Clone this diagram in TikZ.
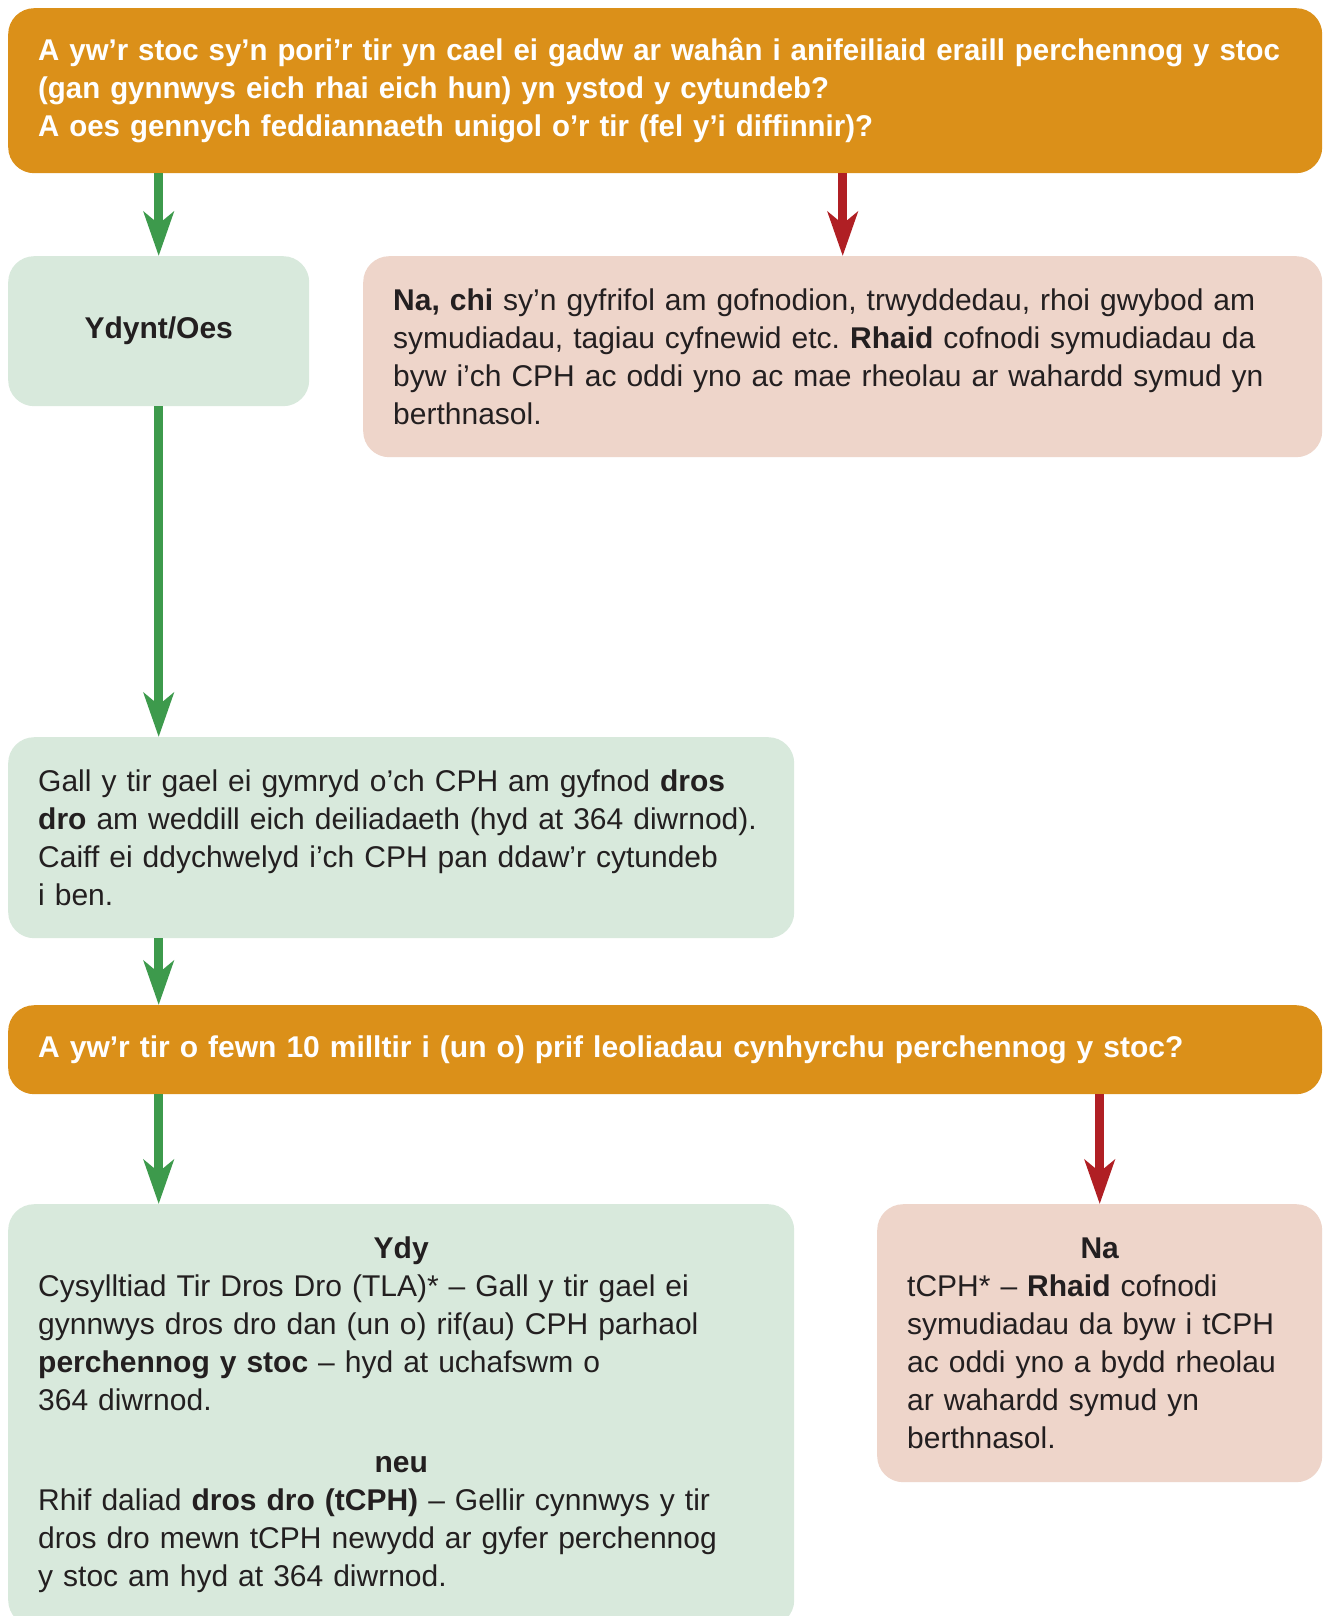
\documentclass[tikz,border=0pt]{standalone}
\usepackage{fontspec}
\setmainfont{Liberation Sans}
\newfontfamily\headfont{Liberation Sans}[FakeStretch=0.98]
\usetikzlibrary{arrows.meta}
\definecolor{qorange}{HTML}{DB9019}
\definecolor{yesfill}{HTML}{D8E9DC}
\definecolor{nofill}{HTML}{EED5CA}
\definecolor{yesgreen}{HTML}{3D9A4C}
\definecolor{nored}{HTML}{B01F24}
\definecolor{ink}{HTML}{231F20}
\frenchspacing
\begin{document}
\begin{tikzpicture}[x=1pt,y=-1pt,
    box/.style={anchor=north west,rounded corners=26pt,inner xsep=30pt,inner ysep=0pt,
      align=left,text=ink,font=\fontsize{30}{38}\selectfont},
    qbox/.style={box,fill=qorange,text=white,font=\bfseries\fontsize{30}{38}\selectfont},
    yesbox/.style={box,fill=yesfill},
    nobox/.style={box,fill=nofill},
    yesline/.style={draw=yesgreen,line width=9pt,-{Stealth[length=44pt,width=30pt,inset=12pt]}},
    noline/.style={yesline,draw=nored}]
  \fill[white] (0,0) rectangle (1324,1616);
  \useasboundingbox (0,0) rectangle (1324,1616);
  \clip (0,0) rectangle (1324,1616);
  % first question
  \node[qbox,text width=1254pt,minimum height=165pt,font=\headfont\bfseries\fontsize{30}{38}\selectfont] (q1) at (8,8)
    {A yw’r stoc sy’n pori’r tir yn cael ei gadw ar wahân i anifeiliaid eraill perchennog y stoc\\
     (gan gynnwys eich rhai eich hun) yn ystod y cytundeb?\\
     A oes gennych feddiannaeth unigol o’r tir (fel y’i diffinnir)?};
  \node[yesbox,align=center,text width=241pt,minimum height=150pt,font=\bfseries\fontsize{30}{38}\selectfont] (ydynt) at (8,256) {Ydynt/Oes};
  \node[nobox,text width=899pt,minimum height=201pt] (nachi) at (363,256)
    {\textbf{Na, chi} sy’n gyfrifol am gofnodion, trwyddedau, rhoi gwybod am\\
     symudiadau, tagiau cyfnewid etc. \textbf{Rhaid} cofnodi symudiadau da\\
     byw i’ch CPH ac oddi yno ac mae rheolau ar wahardd symud yn\\
     berthnasol.};
  \node[yesbox,text width=726pt,minimum height=201pt] (gall) at (8,737)
    {Gall y tir gael ei gymryd o’ch CPH am gyfnod \textbf{dros}\\
     \textbf{dro} am weddill eich deiliadaeth (hyd at 364 diwrnod).\\
     Caiff ei ddychwelyd i’ch CPH pan ddaw’r cytundeb\\
     i ben.};
  % second question
  \node[qbox,text width=1254pt,minimum height=89pt] (q2) at (8,1005)
    {A yw’r tir o fewn 10 milltir i (un o) prif leoliadau cynhyrchu perchennog y stoc?};
  \node[yesbox,text width=726pt,inner ysep=33pt] (ydy) at (8,1204)
    {\makebox[\linewidth]{\bfseries Ydy}\\
     Cysylltiad Tir Dros Dro (TLA)* – Gall y tir gael ei\\
     gynnwys dros dro dan (un o) rif(au) CPH parhaol\\
     \textbf{perchennog y stoc} – hyd at uchafswm o\\
     364 diwrnod.\\[24pt]
     \makebox[\linewidth]{\bfseries neu}\\
     Rhif daliad \textbf{dros dro (tCPH)} – Gellir cynnwys y tir\\
     dros dro mewn tCPH newydd ar gyfer perchennog\\
     y stoc am hyd at 364 diwrnod.};
  \node[nobox,text width=385pt,minimum height=278pt] (na) at (877,1204)
    {\makebox[\linewidth]{\bfseries Na}\\
     tCPH* – \textbf{Rhaid} cofnodi\\
     symudiadau da byw i tCPH\\
     ac oddi yno a bydd rheolau\\
     ar wahardd symud yn\\
     berthnasol.};
  % connectors
  \draw[yesline] (q1.south -| ydynt.north) -- (ydynt.north);
  \draw[noline] (q1.south -| nachi.north) -- (nachi.north);
  \draw[yesline] (ydynt.south) -- (ydynt.south |- gall.north);
  \draw[yesline] (ydynt.south |- gall.south) -- (ydynt.south |- q2.north);
  \draw[yesline] (ydynt.south |- q2.south) -- (ydynt.south |- ydy.north);
  \draw[noline] (q2.south -| na.north) -- (na.north);
\end{tikzpicture}
\end{document}
